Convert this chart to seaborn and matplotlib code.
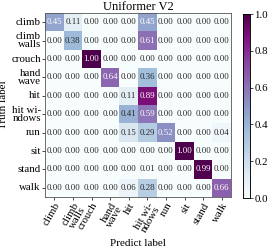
import numpy as np
import matplotlib
matplotlib.use("Agg")
import matplotlib.pyplot as plt
import seaborn as sns

labels = ["climb", "climb\nwalls", "crouch", "hand\nwave", "hit",
          "hit wi-\nndows", "run", "sit", "stand", "walk"]

cm = np.array([
    [0.45, 0.11, 0.00, 0.00, 0.00, 0.45, 0.00, 0.00, 0.00, 0.00],
    [0.00, 0.38, 0.00, 0.00, 0.00, 0.61, 0.00, 0.00, 0.00, 0.00],
    [0.00, 0.00, 1.00, 0.00, 0.00, 0.00, 0.00, 0.00, 0.00, 0.00],
    [0.00, 0.00, 0.00, 0.64, 0.00, 0.36, 0.00, 0.00, 0.00, 0.00],
    [0.00, 0.00, 0.00, 0.00, 0.11, 0.89, 0.00, 0.00, 0.00, 0.00],
    [0.00, 0.00, 0.00, 0.00, 0.41, 0.59, 0.00, 0.00, 0.00, 0.00],
    [0.00, 0.00, 0.00, 0.00, 0.15, 0.29, 0.52, 0.00, 0.00, 0.04],
    [0.00, 0.00, 0.00, 0.00, 0.00, 0.00, 0.00, 1.00, 0.00, 0.00],
    [0.00, 0.00, 0.00, 0.00, 0.00, 0.01, 0.00, 0.00, 0.99, 0.00],
    [0.00, 0.00, 0.00, 0.00, 0.06, 0.28, 0.00, 0.00, 0.00, 0.66],
])

plt.rcParams['font.family'] = ['Liberation Serif', 'DejaVu Serif']

fig = plt.figure(figsize=(2.72, 2.49), dpi=100)
ax = fig.add_axes([45/272, 1 - 197/249, 186/272, 184/249])
cax = fig.add_axes([243/272, 1 - 198/249, 7/272, 184/249])

sns.heatmap(cm, cmap="BuPu", vmin=0, vmax=1, annot=True, fmt=".2f",
            annot_kws={"size": 6.3}, xticklabels=labels, yticklabels=labels,
            ax=ax, cbar_ax=cax, linewidths=0)

for s in ax.spines.values():
    s.set_visible(True)
    s.set_color("#555555")
    s.set_linewidth(0.6)

ax.set_title("Uniformer V2", fontsize=9, pad=2)
ax.set_xlabel("Predict label", fontsize=8, labelpad=3)
ax.set_ylabel("Truth label", fontsize=8, labelpad=2)
ax.tick_params(axis="both", labelsize=7.8, length=2, width=0.5, pad=1)
plt.setp(ax.get_xticklabels(), rotation=60, ha="right", rotation_mode="anchor",
         linespacing=0.8)
plt.setp(ax.get_yticklabels(), rotation=0, ha="right", linespacing=0.8)

cax.tick_params(labelsize=7.8, length=2, width=0.5, pad=1)
for s in cax.spines.values():
    s.set_visible(True)
    s.set_linewidth(0.5)

fig.savefig("out.png", dpi=100)
